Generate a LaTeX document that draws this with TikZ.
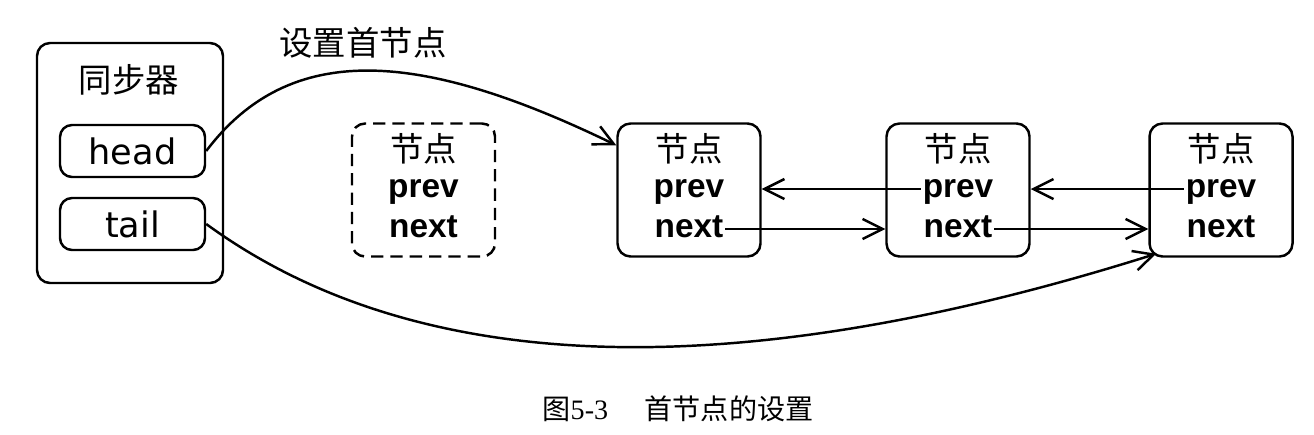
\documentclass[tikz,border=0pt]{standalone}
\usepackage{fontspec}
\setmainfont{Liberation Sans}
\newfontfamily\cjk{Noto Sans CJK SC}
\newfontfamily\gothic{DejaVu Sans}
\newfontfamily\capserif{Liberation Serif}
\usetikzlibrary{arrows.meta,positioning}

\tikzset{
  box/.style={draw, line width=1.4pt, rounded corners=2.6mm, minimum width=2.86cm,
    minimum height=2.66cm, inner sep=0pt},
  ghostbox/.style={box, dash pattern=on 7pt off 4pt},
  field/.style={font=\fontsize{19pt}{23pt}\selectfont\bfseries, inner sep=1pt},
  cjklabel/.style={font=\cjk\fontsize{19pt}{23pt}\selectfont, inner sep=1pt},
  ptr/.style={draw, line width=1.4pt, rounded corners=2.4mm, minimum width=2.9cm,
    minimum height=1.04cm, font=\gothic\fontsize{20pt}{24pt}\selectfont},
  link/.style={line width=1.4pt, -{Straight Barb[length=4mm,width=4mm]}},
}

\begin{document}
\fontsize{19pt}{23pt}\selectfont
\begin{tikzpicture}
\useasboundingbox (0,0) rectangle (26.28,8.68);

  % synchronizer (left)
  \node[box, minimum width=3.72cm, minimum height=4.8cm] (sync) at (2.6,5.42) {};
  \node[cjklabel] (synct) at (2.58,7.08) {同步器};
  \node[ptr] (head) at (2.65,5.66) {head};
  \node[ptr] (tail) at (2.65,4.2) {tail};

  \node[cjklabel] (setlbl) at (7.26,7.82) {设置首节点};

  % new node (dashed)
  \node[ghostbox] (n0) at (8.47,4.88) {};
  \node[cjklabel] (n0t) at ([yshift=0.83cm]n0.center) {节点};
  \node[field, anchor=mid] (n0p) at ([yshift=0.02cm]n0.center) {prev};
  \node[field, anchor=mid] (n0n) at ([yshift=-0.78cm]n0.center) {next};

  % queue nodes
  \node[box] (n1) at (13.78,4.88) {};
  \node[cjklabel] (n1t) at ([yshift=0.83cm]n1.center) {节点};
  \node[field, anchor=mid] (n1p) at ([yshift=0.02cm]n1.center) {prev};
  \node[field, anchor=mid] (n1n) at ([yshift=-0.78cm]n1.center) {next};

  \node[box] (n2) at (19.16,4.88) {};
  \node[cjklabel] (n2t) at ([yshift=0.83cm]n2.center) {节点};
  \node[field, anchor=mid] (n2p) at ([yshift=0.02cm]n2.center) {prev};
  \node[field, anchor=mid] (n2n) at ([yshift=-0.78cm]n2.center) {next};

  \node[box] (n3) at (24.42,4.88) {};
  \node[cjklabel] (n3t) at ([yshift=0.83cm]n3.center) {节点};
  \node[field, anchor=mid] (n3p) at ([yshift=0.02cm]n3.center) {prev};
  \node[field, anchor=mid] (n3n) at ([yshift=-0.78cm]n3.center) {next};

  % links between nodes
  \draw[link] (n2p.mid west) -- (n1.east |- n2p.mid west);
  \draw[link] (n3p.mid west) -- (n2.east |- n3p.mid west);
  \draw[link] (n1n.mid east) -- (n2.west |- n1n.mid east);
  \draw[link] (n2n.mid east) -- (n3.west |- n2n.mid east);

  % head and tail pointers
  \draw[link] (head.east) .. controls (5.8,7.88) and (8.4,7.68) .. ([yshift=-0.46cm]n1.north west);
  \draw[link] (tail.east) .. controls (8.4,1.08) and (14.8,0.98) .. ([xshift=0.16cm,yshift=0.08cm]n3.south west);

  % caption
  \node[font=\fontsize{16pt}{19pt}\selectfont] (caption) at (13.56,0.51)
    {{\cjk 图}{\capserif 5-3}\hspace{1.3em}{\cjk 首节点的设置}};

\end{tikzpicture}
\end{document}
